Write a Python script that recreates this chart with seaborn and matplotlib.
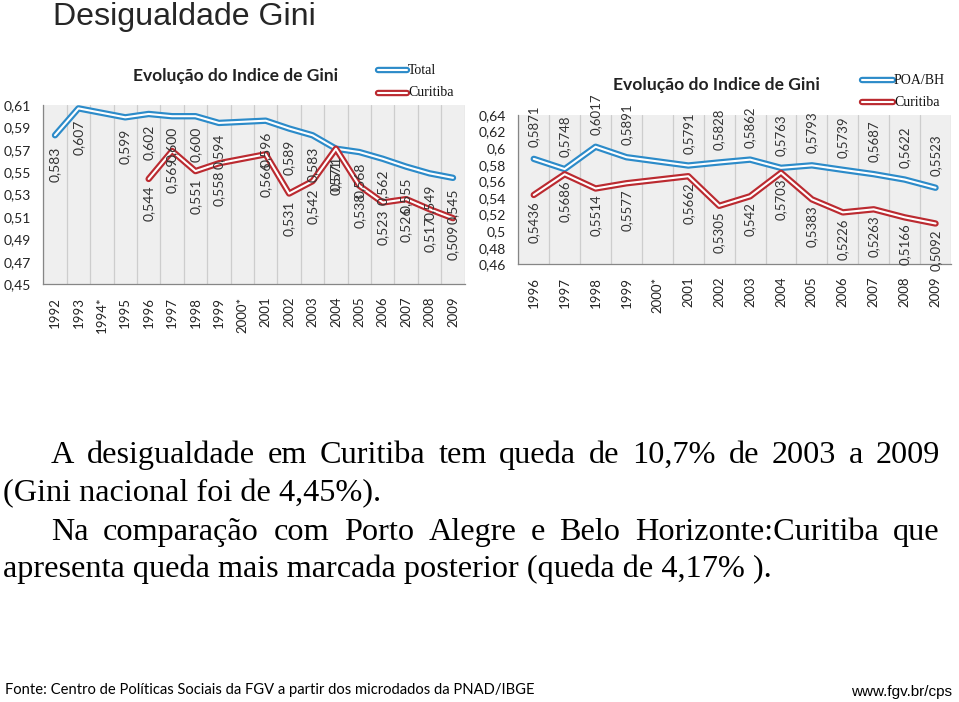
import numpy as np
import pandas as pd
import matplotlib
matplotlib.use("Agg")
import matplotlib.pyplot as plt
import matplotlib.patheffects as pe
import seaborn as sns

nan = np.nan

# left chart: Brazil total vs Curitiba
years_a = ["1992", "1993", "1994*", "1995", "1996", "1997", "1998", "1999", "2000*",
           "2001", "2002", "2003", "2004", "2005", "2006", "2007", "2008", "2009"]
gini_total = [0.583, 0.607, nan, 0.599, 0.602, 0.600, 0.600, 0.594, nan,
              0.596, 0.589, 0.583, 0.571, 0.568, 0.562, 0.555, 0.549, 0.545]
gini_curitiba_a = [nan, nan, nan, nan, 0.544, 0.569, 0.551, 0.558, nan,
                   0.566, 0.531, 0.542, 0.571, 0.538, 0.523, 0.526, 0.517, 0.509]

# right chart: POA/BH vs Curitiba
years_b = ["1996", "1997", "1998", "1999", "2000*", "2001", "2002", "2003",
           "2004", "2005", "2006", "2007", "2008", "2009"]
gini_poabh = [0.5871, 0.5748, 0.6017, 0.5891, nan, 0.5791, 0.5828, 0.5862,
              0.5763, 0.5793, 0.5739, 0.5687, 0.5622, 0.5523]
gini_curitiba_b = [0.5436, 0.5686, 0.5514, 0.5577, nan, 0.5662, 0.5305, 0.542,
                   0.5703, 0.5383, 0.5226, 0.5263, 0.5166, 0.5092]

W, H = 959, 702
BLUE = "#2c8bc9"
RED = "#bb2a30"
GRAY = "#868686"

sns.set_style("white")
plt.rcParams["font.family"] = ["Lato", "DejaVu Sans"]

fig = plt.figure(figsize=(W / 100, H / 100), dpi=100)
renderer = fig.canvas.get_renderer()


def fx(px):
    return px / W


def fy(py):
    return 1 - py / H


def fit_text(x, y, s, width, size=12, **kw):
    # put text and scale font so it spans the given pixel width
    t = fig.text(fx(x), fy(y), s, fontsize=size, **kw)
    w = t.get_window_extent(renderer).width
    t.set_fontsize(size * width / w)
    return t


def justify(x0, x1, y, line, size, **kw):
    words = line.split(" ")
    texts = [fig.text(0, fy(y), w, fontsize=size, **kw) for w in words]
    widths = [t.get_window_extent(renderer).width for t in texts]
    gap = (x1 - x0 - sum(widths)) / (len(words) - 1)
    pos = x0
    for t, w in zip(texts, widths):
        t.set_x(fx(pos))
        pos += w + gap


def double_line(ax, x, y, color):
    df = pd.DataFrame({"x": x, "y": y}).dropna()
    sns.lineplot(data=df, x="x", y="y", ax=ax, color="white", linewidth=1.5,
                 path_effects=[pe.Stroke(linewidth=4.6, foreground=color), pe.Normal()])


def setup_axes(rect, years, ylim, yticks, ylabels, labsize):
    ax = fig.add_axes(rect)
    n = len(years)
    ax.set_facecolor("#efefef")
    ax.set_xlim(-0.5, n - 0.5)
    ax.set_ylim(*ylim)
    ax.set_xticks(range(n))
    ax.set_xticklabels(years, rotation=90, fontsize=labsize, color="#222222")
    ax.set_xticks(np.arange(-0.5, n), minor=True)
    ax.tick_params(axis="x", which="major", length=0, pad=9)
    ax.tick_params(axis="x", which="minor", length=3.6, color=GRAY, width=0.8)
    ax.set_yticks(yticks)
    ax.set_yticklabels(ylabels, fontsize=10, color="#222222")
    ax.tick_params(axis="y", length=3.6, color=GRAY, width=0.8, pad=5)
    ax.grid(axis="x", which="minor", color="#cdcdcd", linewidth=0.9)
    ax.grid(axis="y", visible=False)
    for side in ["top", "right"]:
        ax.spines[side].set_visible(False)
    for side in ["left", "bottom"]:
        ax.spines[side].set_color(GRAY)
        ax.spines[side].set_linewidth(0.9)
    return ax


def point_labels(ax, vals, fmt, offset, size):
    for i, v in enumerate(vals):
        if np.isnan(v):
            continue
        va = "bottom" if offset > 0 else "top"
        ax.annotate(fmt(v), (i, v), xytext=(0, offset), textcoords="offset pixels",
                    rotation=90, ha="center", va=va, fontsize=size, color="#333333")


# ---- left chart
yt_a = np.round(np.arange(0.45, 0.6101, 0.02), 2)
ax1 = setup_axes([fx(43.3), fy(284.3), fx(464.7) - fx(43.3), (284.3 - 105) / H],
                 years_a, (0.45, 0.61), yt_a,
                 [f"{t:.2f}".replace(".", ",") for t in yt_a], 9.5)
x_a = np.arange(len(years_a))
double_line(ax1, x_a, gini_total, BLUE)
double_line(ax1, x_a, gini_curitiba_a, RED)
ax1.set_xlabel("")
ax1.set_ylabel("")
fmt3 = lambda v: f"{v:.3f}".replace(".", ",")
point_labels(ax1, gini_total, fmt3, -11, 10)
point_labels(ax1, gini_curitiba_a, fmt3, -7, 10)

# ---- right chart
yt_b = np.round(np.arange(0.46, 0.6401, 0.02), 2)
ax2 = setup_axes([fx(518.3), fy(264.3), fx(951) - fx(518.3), (264.3 - 115) / H],
                 years_b, (0.46, 0.64), yt_b,
                 [format(t, "g").replace(".", ",") for t in yt_b], 9.5)
x_b = np.arange(len(years_b))
double_line(ax2, x_b, gini_poabh, BLUE)
double_line(ax2, x_b, gini_curitiba_b, RED)
ax2.set_xlabel("")
ax2.set_ylabel("")
fmtg = lambda v: format(v, "g").replace(".", ",")
point_labels(ax2, gini_poabh, fmtg, 12, 9.5)
point_labels(ax2, gini_curitiba_b, fmtg, -6, 9.5)

# chart titles
fit_text(133, 76, "Evolução do Indice de Gini", 204, weight="bold", va="center", color="#222222")
fit_text(613, 85, "Evolução do Indice de Gini", 205, weight="bold", va="center", color="#222222")

# legends
legend_items = [(378, 407, 70, "Total", BLUE), (378, 407, 93, "Curitiba", RED),
                (862, 893, 80, "POA/BH", BLUE), (862, 893, 102, "Curitiba", RED)]
for xa, xb, yy, lab, col in legend_items:
    fig.add_artist(plt.Line2D([fx(xa), fx(xb)], [fy(yy), fy(yy)], color="white", linewidth=1.5,
                              solid_capstyle="round",
                              path_effects=[pe.Stroke(linewidth=4.6, foreground=col,
                                                      capstyle="round"), pe.Normal()]))
    fig.text(fx(xb + 1), fy(yy), lab, fontsize=10, family="Liberation Serif",
             va="center", color="#111111")

# slide title
fit_text(53, 25, "Desigualdade Gini", 264, family="Liberation Sans", va="baseline")

# body text
serif = dict(family="Liberation Serif", va="baseline", color="black")
t4 = fit_text(3, 577, "apresenta queda mais marcada posterior (queda de 4,17% ).", 770, size=18, **serif)
body_size = t4.get_fontsize()
justify(51, 940, 463, "A desigualdade em Curitiba tem queda de 10,7% de 2003 a 2009", body_size, **serif)
fig.text(fx(3), fy(501), "(Gini nacional foi de 4,45%).", fontsize=body_size, **serif)
justify(51, 940, 540, "Na comparação com Porto Alegre e Belo Horizonte:Curitiba que", body_size, **serif)

# footer
fit_text(5, 690, "Fonte: Centro de Políticas Sociais da FGV a partir dos microdados da PNAD/IBGE",
         527, va="center", color="black")
fit_text(851, 692, "www.fgv.br/cps", 101, family="Liberation Sans", va="center", color="black")

fig.savefig("out.png", dpi=100)
